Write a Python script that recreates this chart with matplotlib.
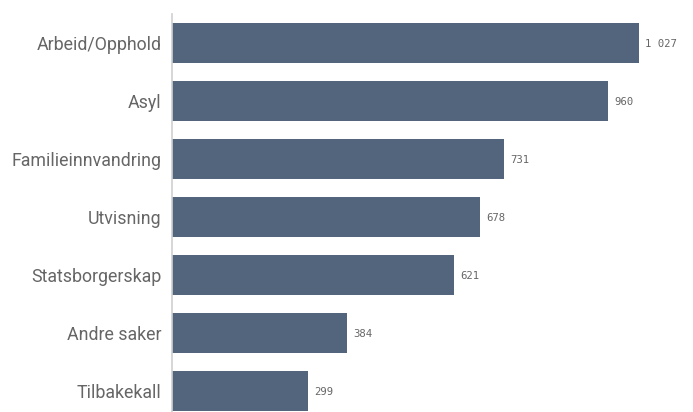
import matplotlib.pyplot as plt

categories = ["Arbeid/Opphold", "Asyl", "Familieinnvandring", "Utvisning",
              "Statsborgerskap", "Andre saker", "Tilbakekall"]
values = [1027, 960, 731, 678, 621, 384, 299]
value_labels = ["1 027", "960", "731", "678", "621", "384", "299"]

bar_color = "#52657d"
text_color = "#666666"

fig = plt.figure(figsize=(6.93, 4.12), dpi=100)
ax = fig.add_axes([0.2482, 0.0, 0.7518, 0.966])

pos = list(range(len(categories)))
ax.barh(pos, values, height=0.69, color=bar_color)

for y, v, lab in zip(pos, values, value_labels):
    ax.annotate(lab, (v, y), xytext=(4.5, -1), textcoords="offset points",
                va="center", ha="left", fontsize=7.7, color=text_color,
                family="DejaVu Sans Mono")

ax.set_yticks(pos)
ax.set_yticklabels(categories, fontsize=12.8, color=text_color, family="Roboto")
ax.set_ylim(6.362, -0.5)
ax.set_xlim(0, 1146)

ax.set_xticks([])
ax.tick_params(axis="y", length=0, pad=7.5)
for s in ["top", "right", "bottom"]:
    ax.spines[s].set_visible(False)
ax.spines["left"].set_color("#cfcfcf")
ax.spines["left"].set_linewidth(1.2)

fig.savefig("out.png", dpi=100)
